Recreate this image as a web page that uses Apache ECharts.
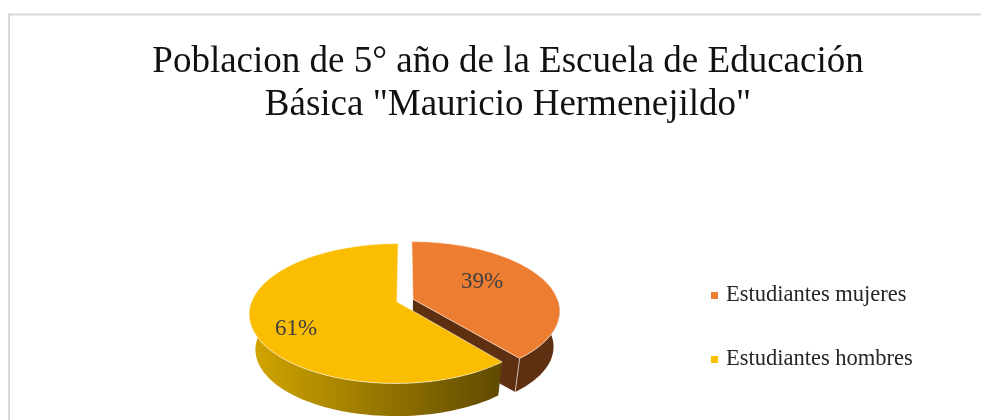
<!DOCTYPE html>
<html>
<head>
<meta charset="utf-8">
<style>
html,body{margin:0;padding:0;background:#fff;}
#chart{width:981px;height:420px;}
</style>
<script src="https://cdn.jsdelivr.net/npm/echarts@6/dist/echarts.min.js"></script>
</head>
<body>
<div id="chart"></div>
<script>
var chartTitle = 'Poblacion de 5° año de la Escuela de Educación\nBásica "Mauricio Hermenejildo"';
var categories = ['Estudiantes mujeres', 'Estudiantes hombres'];
var values = [39, 61];
var topColors = ['#ED7D31', '#FBBD00'];
var labelSpots = [[482, 282], [296, 329]];

// the 3d look: a disc seen in perspective, values become angles from 12 o'clock
var cx = 405, cy = 300.5, R = 145;
var squash = 0.466, persp = 0.1656, explode = 8.5;
var depth = 36, lowerScale = 0.96;
var FONT = '"Liberation Serif", serif';

var total = values.reduce(function (a, b) { return a + b; }, 0);

function project(u, v) {
    var s = 1 / (1 - persp * v / R);
    return [cx + u * s, cy + squash * v * s];
}
function lower(p) {
    return [cx + (p[0] - cx) * lowerScale, cy + depth + (p[1] - cy) * lowerScale];
}
function rad(d) { return d * Math.PI / 180; }

function renderSlice(params, api) {
    var idx = params.seriesIndex;
    var before = 0;
    for (var i = 0; i < idx; i++) before += values[i];
    var a = before / total * 360;
    var b = a + api.value(0) / total * 360;
    var mid = rad((a + b) / 2);
    var ou = explode * Math.sin(mid), ov = -explode * Math.cos(mid);

    function rim(d) {
        return project(R * Math.sin(rad(d)) + ou, -R * Math.cos(rad(d)) + ov);
    }
    function arc(from, to) {
        var pts = [];
        var n = Math.max(2, Math.ceil(Math.abs(to - from) / 2));
        for (var k = 0; k <= n; k++) pts.push(rim(from + (to - from) * k / n));
        return pts;
    }
    var apex = project(ou, ov);
    var children = [];
    var wallFill = idx === 0 ? '#5F2F12' : {
        type: 'linear', x: 0, y: 0, x2: 1, y2: 0,
        colorStops: [{ offset: 0, color: '#D3A600' }, { offset: 1, color: '#5E4900' }]
    };

    // outer wall, only the part facing the viewer
    var wa = Math.max(a, 90), wb = Math.min(b, 270);
    if (wb > wa) {
        var upper = arc(wa, wb);
        children.push({
            type: 'polygon',
            shape: { points: upper.concat(upper.map(lower).reverse()) },
            style: { fill: wallFill }
        });
    }
    // cut face at the slice end
    if (b < 180) {
        var end = rim(b);
        children.push({
            type: 'polygon',
            shape: { points: [apex, end, lower(end), lower(apex)] },
            style: { fill: '#5F2F12' }
        });
        children.push({
            type: 'line',
            shape: { x1: end[0], y1: end[1], x2: lower(end)[0], y2: lower(end)[1] },
            style: { stroke: 'rgba(255,255,255,0.6)', lineWidth: 1 }
        });
    }
    // top
    children.push({
        type: 'polygon',
        shape: { points: [apex].concat(arc(a, b)) },
        style: { fill: topColors[idx], stroke: 'rgba(255,255,255,0.55)', lineWidth: 1 }
    });
    children.push({
        type: 'text',
        style: {
            x: labelSpots[idx][0], y: labelSpots[idx][1],
            text: Math.round(api.value(0) / total * 100) + '%',
            font: '23px ' + FONT, fill: '#404040',
            textAlign: 'center', textVerticalAlign: 'middle'
        }
    });
    return { type: 'group', children: children };
}

var seriesList = categories.map(function (name, i) {
    return {
        type: 'custom',
        name: name,
        coordinateSystem: 'none',
        itemStyle: { color: topColors[i] },
        data: [[values[i]]],
        renderItem: renderSlice,
        animation: false,
        silent: true
    };
});

var chart = echarts.init(document.getElementById('chart'));
chart.setOption({
    backgroundColor: '#fff',
    animation: false,
    title: {
        text: chartTitle,
        left: 503,
        top: 36,
        textAlign: 'center',
        textStyle: {
            fontFamily: FONT,
            fontSize: 37,
            fontWeight: 'normal',
            color: '#111',
            lineHeight: 43
        }
    },
    legend: {
        data: categories,
        orient: 'vertical',
        left: 706,
        top: 279,
        icon: 'rect',
        itemWidth: 7,
        itemHeight: 7,
        itemGap: 41,
        textStyle: {
            fontFamily: FONT,
            fontSize: 22.5,
            color: '#262626',
            padding: [0, 0, 0, 3]
        }
    },
    graphic: [{
        type: 'rect',
        silent: true,
        z: -1,
        shape: { x: 9, y: 14.5, width: 1000, height: 500 },
        style: { fill: 'none', stroke: '#D9D9D9', lineWidth: 2 }
    }],
    series: seriesList
});
</script>
</body>
</html>
